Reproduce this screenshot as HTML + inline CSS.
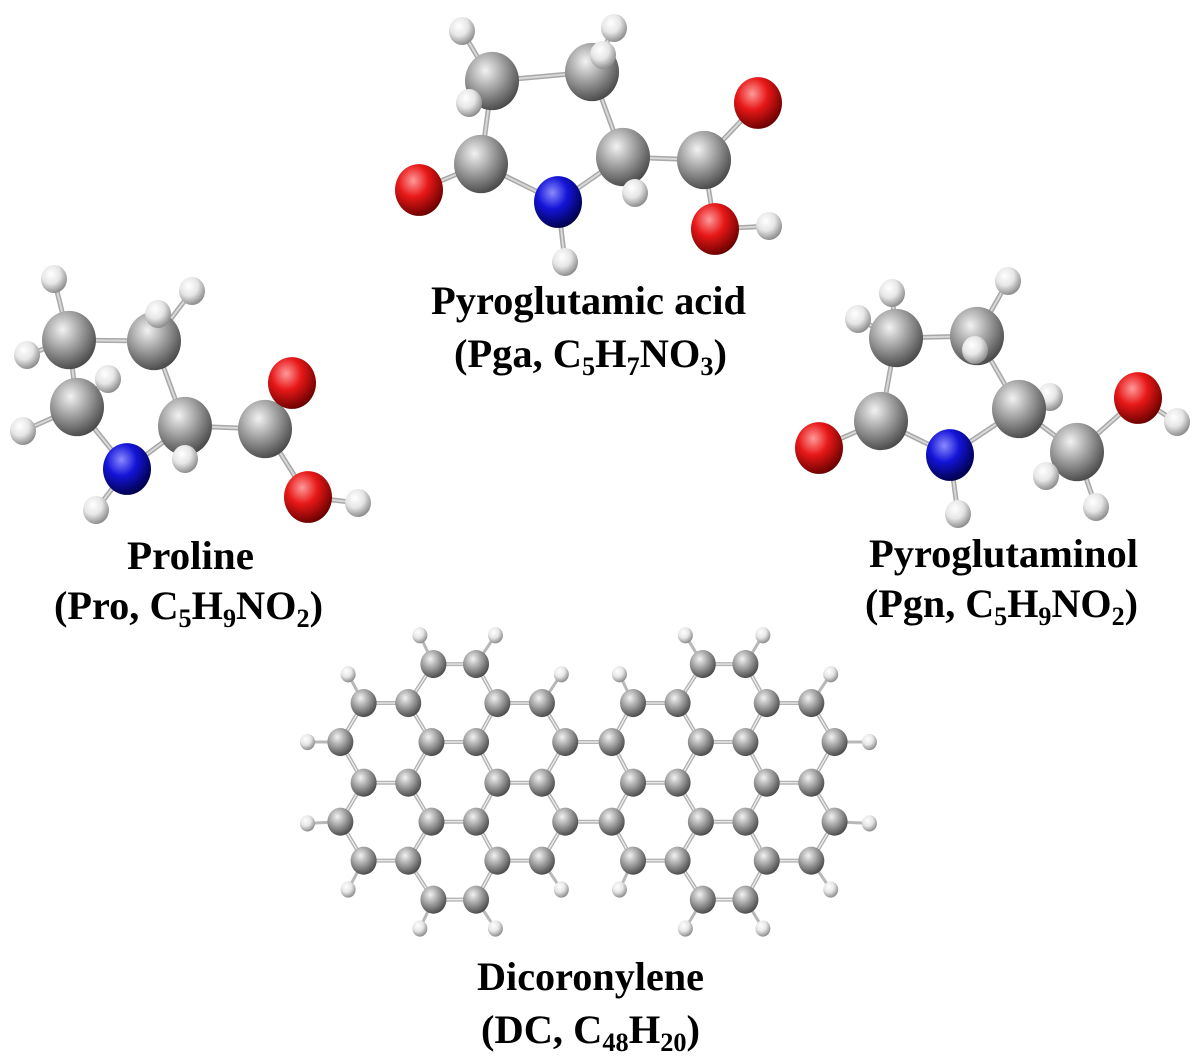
<!DOCTYPE html>
<html><head><meta charset="utf-8"><style>
html,body{margin:0;padding:0;background:#fff;}
svg{display:block;}
text{font-family:"Liberation Serif",serif;font-weight:bold;fill:#000;}
</style></head><body>
<svg id="s" width="1200" height="1058" viewBox="0 0 1200 1058" xmlns="http://www.w3.org/2000/svg">
<defs>
<radialGradient id="gC" cx="38%" cy="32%" r="70%"><stop offset="0" stop-color="#f2f2f2"/><stop offset="0.45" stop-color="#a6a6a6"/><stop offset="1" stop-color="#4a4a4a"/></radialGradient>
<radialGradient id="gH" cx="38%" cy="32%" r="70%"><stop offset="0" stop-color="#ffffff"/><stop offset="0.5" stop-color="#e6e6e6"/><stop offset="1" stop-color="#8a8a8a"/></radialGradient>
<radialGradient id="gO" cx="38%" cy="32%" r="70%"><stop offset="0" stop-color="#ff9a9a"/><stop offset="0.45" stop-color="#e81818"/><stop offset="1" stop-color="#6a0000"/></radialGradient>
<radialGradient id="gN" cx="38%" cy="32%" r="70%"><stop offset="0" stop-color="#8a8aff"/><stop offset="0.45" stop-color="#1414d8"/><stop offset="1" stop-color="#00004a"/></radialGradient>
</defs>
<g id="bonds"></g>
<g id="atoms"></g>
<text x="431" y="314" font-size="40" textLength="315" lengthAdjust="spacingAndGlyphs">Pyroglutamic acid</text>
<text x="454" y="367" font-size="40" textLength="273" lengthAdjust="spacingAndGlyphs">(Pga, C<tspan font-size="26" dy="8">5</tspan><tspan dy="-8">H</tspan><tspan font-size="26" dy="8">7</tspan><tspan dy="-8">NO</tspan><tspan font-size="26" dy="8">3</tspan><tspan dy="-8">)</tspan></text>
<text x="127" y="569" font-size="40" textLength="127" lengthAdjust="spacingAndGlyphs">Proline</text>
<text x="54" y="619" font-size="40" textLength="269" lengthAdjust="spacingAndGlyphs">(Pro, C<tspan font-size="26" dy="8">5</tspan><tspan dy="-8">H</tspan><tspan font-size="26" dy="8">9</tspan><tspan dy="-8">NO</tspan><tspan font-size="26" dy="8">2</tspan><tspan dy="-8">)</tspan></text>
<text x="869" y="567" font-size="40" textLength="269" lengthAdjust="spacingAndGlyphs">Pyroglutaminol</text>
<text x="865" y="617" font-size="40" textLength="273" lengthAdjust="spacingAndGlyphs">(Pgn, C<tspan font-size="26" dy="8">5</tspan><tspan dy="-8">H</tspan><tspan font-size="26" dy="8">9</tspan><tspan dy="-8">NO</tspan><tspan font-size="26" dy="8">2</tspan><tspan dy="-8">)</tspan></text>
<text x="477" y="990" font-size="40" textLength="227" lengthAdjust="spacingAndGlyphs">Dicoronylene</text>
<text x="481" y="1043" font-size="40" textLength="219" lengthAdjust="spacingAndGlyphs">(DC, C<tspan font-size="26" dy="8">48</tspan><tspan dy="-8">H</tspan><tspan font-size="26" dy="8">20</tspan><tspan dy="-8">)</tspan></text>
</svg>
<script>
var NS="http://www.w3.org/2000/svg";
var B=document.getElementById("bonds"),A=document.getElementById("atoms");
function line(a,b,w,c){var l=document.createElementNS(NS,"line");l.setAttribute("x1",a[1]);l.setAttribute("y1",a[2]);l.setAttribute("x2",b[1]);l.setAttribute("y2",b[2]);l.setAttribute("stroke",c);l.setAttribute("stroke-width",w);l.setAttribute("stroke-linecap","round");B.appendChild(l);}
function atom(a,r){var c=document.createElementNS(NS,"ellipse");c.setAttribute("cx",a[1]);c.setAttribute("cy",a[2]);c.setAttribute("rx",r);c.setAttribute("ry",r*1.08);c.setAttribute("fill","url(#g"+a[0]+")");A.appendChild(c);}
var R={C:27,O:24,N:24,H:13};
function mol(at,bd){bd.forEach(function(p){line(at[p[0]],at[p[1]],5,"#a8a8a8");line(at[p[0]],at[p[1]],2,"#d8d8d8");});
 at.filter(function(a){return a[0]=="H"&&!a[3]}).forEach(function(a){atom(a,R.H)});
 at.filter(function(a){return a[0]!="H"}).forEach(function(a){atom(a,R[a[0]])});
 at.filter(function(a){return a[0]=="H"&&a[3]}).forEach(function(a){atom(a,R.H)});}
mol([["H",462,31],["H",614,28],["H",603,55,1],["C",492,81],["C",592,72],["H",469,103,1],["C",481,164],["O",419,190],["N",558,202],["H",565,262],["C",623,157],["H",635,193,1],["C",704,160],["O",758,103],["O",715,229],["H",769,226]],
[[0,3],[1,4],[2,4],[3,4],[3,5],[3,6],[6,7],[6,8],[8,9],[8,10],[4,10],[10,11],[10,12],[12,13],[12,14],[14,15]]);
mol([["H",54,279],["H",192,291],["C",69,340],["H",27,355],["C",154,341],["H",158,314,1],["C",77,407],["H",108,379,1],["H",23,431],["N",127,469],["H",96,510],["C",185,426],["H",185,459,1],["C",265,429],["O",292,383],["O",308,497],["H",358,503]],
[[0,2],[2,3],[2,4],[2,6],[4,1],[4,5],[4,11],[6,7],[6,8],[6,9],[9,10],[9,11],[11,12],[11,13],[13,14],[13,15],[15,16]]);
mol([["H",858,319],["H",892,293],["C",896,338],["C",977,336],["H",975,350,1],["H",1008,281],["C",881,421],["O",819,448],["N",950,455],["H",958,514],["C",1019,409],["H",1050,397],["C",1077,452],["H",1046,476,1],["H",1096,507],["O",1138,398],["H",1177,422]],
[[0,2],[1,2],[2,3],[3,4],[3,5],[2,6],[6,7],[6,8],[8,9],[8,10],[3,10],[10,11],[10,12],[12,13],[12,14],[12,15],[15,16]]);
var rows=[[130,[370,480,1065,1175]],[245,[190,305,535,650,885,1000,1230,1345]],[360,[130,365,480,710,830,1060,1175,1405]],[480,[190,305,535,650,885,1000,1230,1345]],[595,[130,365,480,710,830,1060,1175,1405]],[710,[190,305,535,650,885,1000,1230,1345]],[825,[370,480,1065,1175]]];
var hs=[[335,45],[530,45],[1020,45],[1220,45],[150,160],[700,160],[850,160],[1395,160],[45,360],[1495,360],[45,600],[1495,600],[150,795],[700,795],[850,795],[1395,795],[335,910],[530,910],[1020,910],[1220,910]];
function X(z){return 290+z/2.58}function Y(z){return 620+z/2.95}
var C=[],H=[];
rows.forEach(function(r){r[1].forEach(function(x){C.push(["C",X(x),Y(r[0])]);});});
hs.forEach(function(h){H.push(["H",X(h[0]),Y(h[1])]);});
function d(a,b){return Math.hypot(a[1]-b[1],a[2]-b[2]);}
for(var i=0;i<C.length;i++)for(var j=i+1;j<C.length;j++){if(d(C[i],C[j])<52){line(C[i],C[j],4,"#b4b4b4");line(C[i],C[j],1.2,"#f0f0f0");}}
H.forEach(function(h){var best=null,bd=1e9;C.forEach(function(c){var q=d(h,c);if(q<bd){bd=q;best=c;}});line(h,best,3,"#b8b8b8");});
H.forEach(function(h){atom(h,7.5)});
C.forEach(function(c){atom(c,13)});
</script>
</body></html>
